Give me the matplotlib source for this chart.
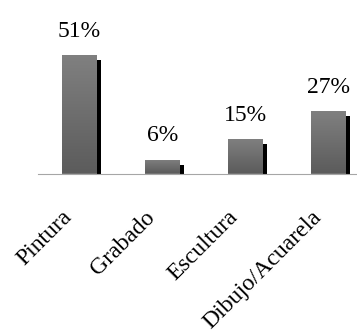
import numpy as np, matplotlib; matplotlib.use("Agg")
import matplotlib.pyplot as plt
from matplotlib.colors import LinearSegmentedColormap
from matplotlib.transforms import ScaledTranslation

categorias = ["Pintura", "Grabado", "Escultura", "Dibujo/Acuarela"]
porcentajes = [51, 6, 15, 27]
etiquetas = [f"{v}%" for v in porcentajes]

plt.rcParams['font.family'] = ['Liberation Serif', 'DejaVu Serif']

W, H = 357, 332
fig = plt.figure(figsize=(W/100, H/100), dpi=100)
# eje: base en y=173.5px, 83px por categoria, 2.33px por %
ax = fig.add_axes([38/W, (H-173.5)/H, (W-38)/W, 163/H])

x = np.arange(len(categorias))
ancho = 35/83
dx, dy = 4/83, 5/2.33   # sombra: 4px derecha, 5px abajo

# sombra negra detras
ax.bar(x + dx, np.array(porcentajes) - dy, ancho, color='black', zorder=1)
barras = ax.bar(x, porcentajes, ancho, color='#707070', zorder=2)

cmap = LinearSegmentedColormap.from_list('gris', ['#5c5c5c', '#808080'])
grad = np.linspace(0, 1, 64).reshape(-1, 1)
for b in barras:
    x0, y0 = b.get_x(), b.get_y()
    im = ax.imshow(grad, extent=(x0, x0 + b.get_width(), y0, y0 + b.get_height()),
                   origin='lower', cmap=cmap, aspect='auto', zorder=3)
    im.set_clip_path(b)

for xi, v, t in zip(x, porcentajes, etiquetas):
    ax.annotate(t, (xi, v), xytext=(0, 13), textcoords='offset points',
                ha='center', va='baseline', fontsize=17)

ax.set_xlim(-0.5, -0.5 + (W-38)/83)
ax.set_ylim(0, 70)
ax.set_xticks(x, categorias, rotation=45, ha='right', fontsize=17)
ax.set_yticks([])
ax.tick_params(axis='x', length=0, pad=24)
desp = ScaledTranslation(-3/100, 0, fig.dpi_scale_trans)
for lab in ax.get_xticklabels():
    lab.set_transform(lab.get_transform() + desp)
for s in ['top', 'left', 'right']:
    ax.spines[s].set_visible(False)
ax.spines['bottom'].set_color('#a6a6a6')
ax.spines['bottom'].set_linewidth(0.8)

fig.savefig('out.png', dpi=100)
